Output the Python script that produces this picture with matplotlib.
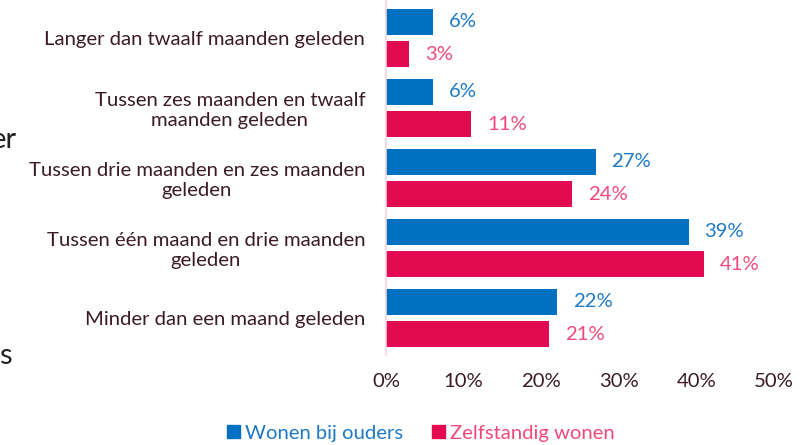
import numpy as np
import matplotlib.pyplot as plt
from matplotlib.patches import Patch

plt.rcParams['font.family'] = ['Lato', 'DejaVu Sans']

categories = [
    'Langer dan twaalf maanden geleden',
    'Tussen zes maanden en twaalf\nmaanden geleden',
    'Tussen drie maanden en zes maanden\ngeleden',
    'Tussen één maand en drie maanden\ngeleden',
    'Minder dan een maand geleden',
]
bij_ouders = [6, 6, 27, 39, 22]
zelfstandig = [3, 11, 24, 41, 21]
series_names = ['Wonen bij ouders', 'Zelfstandig wonen']
xticks = [0, 10, 20, 30, 40, 50]

blue = '#0070c0'
pink = '#e30a52'
blue_txt = '#1f7ac4'
pink_txt = '#f04a7c'
dark = '#3b1c26'
fs = 14.6

fig = plt.figure(figsize=(8.05, 4.45), dpi=100)
ax = fig.add_axes([386 / 805, 1 - 355 / 445, 388 / 805, 355 / 445])

y = np.arange(len(categories))
h = 0.36
off = 0.229
ax.barh(y - off, bij_ouders, height=h, color=blue)
ax.barh(y + off, zelfstandig, height=h, color=pink)

for yi, v in zip(y, bij_ouders):
    ax.annotate(f'{v}%', (v, yi - off), xytext=(11.5, 0), textcoords='offset points',
                va='center', ha='left', color=blue_txt, fontsize=fs)
for yi, v in zip(y, zelfstandig):
    ax.annotate(f'{v}%', (v, yi + off), xytext=(11.5, 0), textcoords='offset points',
                va='center', ha='left', color=pink_txt, fontsize=fs)

ax.set_xlim(0, 50)
ax.set_ylim(4.529, -0.543)
ax.set_xticks(xticks)
ax.set_xticklabels([f'{t}%' for t in xticks], color=dark, fontsize=fs)
ax.tick_params(axis='x', length=0, pad=13)
ax.set_yticks(y)
ax.set_yticklabels(categories, color=dark, fontsize=fs, multialignment='center',
                   linespacing=1.15)
ax.tick_params(axis='y', length=0, pad=15)

for s in ['top', 'right', 'bottom']:
    ax.spines[s].set_visible(False)
ax.spines['left'].set_color('#fbd3df')
ax.spines['left'].set_linewidth(1.2)

# fragments of neighbouring text at the left edge
fig.text(17 / 805, 1 - 137 / 445, 'er', ha='right', va='center_baseline',
         color='#222222', fontsize=21)
fig.text(12 / 805, 1 - 354 / 445, 's', ha='right', va='center_baseline',
         color='#222222', fontsize=21)

handles = [Patch(color=blue), Patch(color=pink)]
fig.legend(handles, series_names, loc='center', bbox_to_anchor=(421 / 805, 1 - 433 / 445),
           ncol=2, frameon=False, fontsize=fs, handlelength=0.65, handleheight=0.65,
           handletextpad=0.25, columnspacing=1.4, labelcolor=[blue_txt, pink_txt])

fig.savefig('out.png', dpi=100)
